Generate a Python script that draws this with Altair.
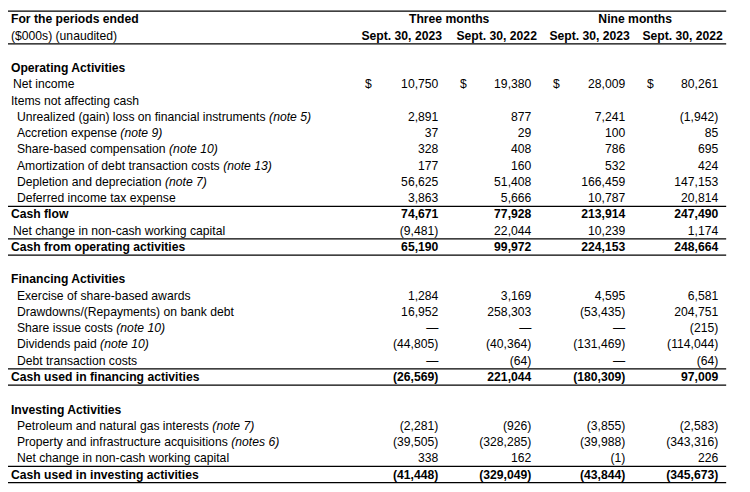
import altair as alt
import pandas as pd

# ---------------- data ----------------
col_groups = ["Three months", "Nine months"]
col_headers = ["Sept. 30, 2023", "Sept. 30, 2022", "Sept. 30, 2023", "Sept. 30, 2022"]
title_left = ["For the periods ended", "($000s) (unaudited)"]

labels = [
    "", "Operating Activities", "Net income", "Items not affecting cash",
    "Unrealized (gain) loss on financial instruments", "Accretion expense",
    "Share-based compensation", "Amortization of debt transaction costs",
    "Depletion and depreciation", "Deferred income tax expense", "Cash flow",
    "Net change in non-cash working capital", "Cash from operating activities",
    "", "Financing Activities", "Exercise of share-based awards",
    "Drawdowns/(Repayments) on bank debt", "Share issue costs", "Dividends paid",
    "Debt transaction costs", "Cash used in financing activities",
    "", "Investing Activities", "Petroleum and natural gas interests",
    "Property and infrastructure acquisitions", "Net change in non-cash working capital",
    "Cash used in investing activities",
]
notes = [
    "", "", "", "", "(note 5)", "(note 9)", "(note 10)", "(note 13)", "(note 7)", "",
    "", "", "", "", "", "", "", "(note 10)", "(note 10)", "", "",
    "", "", "(note 7)", "(notes 6)", "", "",
]
indent = [0, 0, 1, 0, 2, 2, 2, 2, 2, 2, 0, 1, 0,
          0, 0, 2, 2, 2, 2, 2, 0,
          0, 0, 2, 2, 2, 0]
bold = [0, 1, 0, 0, 0, 0, 0, 0, 0, 0, 1, 0, 1,
        0, 1, 0, 0, 0, 0, 0, 1,
        0, 1, 0, 0, 0, 1]
dollar = [0, 0, 1, 0, 0, 0, 0, 0, 0, 0, 0, 0, 0,
          0, 0, 0, 0, 0, 0, 0, 0,
          0, 0, 0, 0, 0, 0]

N = None
three_2023 = [N, N, 10750, N, 2891, 37, 328, 177, 56625, 3863, 74671, -9481, 65190,
              N, N, 1284, 16952, 0, -44805, 0, -26569,
              N, N, -2281, -39505, 338, -41448]
three_2022 = [N, N, 19380, N, 877, 29, 408, 160, 51408, 5666, 77928, 22044, 99972,
              N, N, 3169, 258303, 0, -40364, -64, 221044,
              N, N, -926, -328285, 162, -329049]
nine_2023 = [N, N, 28009, N, 7241, 100, 786, 532, 166459, 10787, 213914, 10239, 224153,
             N, N, 4595, -53435, 0, -131469, 0, -180309,
             N, N, -3855, -39988, -1, -43844]
nine_2022 = [N, N, 80261, N, -1942, 85, 695, 424, 147153, 20814, 247490, 1174, 248664,
             N, N, 6581, 204751, -215, -114044, -64, 97009,
             N, N, -2583, -343316, 226, -345673]

# rules drawn below these body rows
rule_after_rows = [9, 11, 12, 19, 20, 25, 26]

# ---------------- layout (styles / positions) ----------------
W, H = 742, 484
FS = 12.3
FONT = "Liberation Sans"
FIRST_BODY_ROW = 2
ROW_Y0, ROW_Y_LAST = 9, 469
N_ROWS = FIRST_BODY_ROW + len(labels)
indent_x = {0: 3, 1: 5, 2: 9}
value_right = [435, 529, 624, 718]
dollar_left = [361, 457, 551, 646]
header_center = [398, 494, 588, 682]
group_center = [446, 634]
RULE_X0, RULE_X1 = 0, 726

# Arial / Liberation Sans advance widths (per 1000 em), regular
AW = {' ': 278, '(': 333, ')': 333, '-': 333, '/': 278, ',': 278, '.': 278}
for ch in "0123456789abdeghnopqu":
    AW[ch] = 556
AW.update({'c': 500, 'f': 278, 'i': 222, 'j': 222, 'k': 500, 'l': 222, 'm': 833,
           'r': 333, 's': 500, 't': 278, 'v': 500, 'w': 722, 'x': 500, 'y': 500, 'z': 500,
           'A': 667, 'C': 722, 'D': 722, 'P': 667, 'R': 722, 'S': 667, 'U': 722, 'E': 667,
           'N': 722, 'I': 278, 'F': 611, 'O': 778, 'T': 611, 'G': 778, 'B': 667, 'M': 833})


def text_width(s):
    return sum(AW.get(c, 556) for c in s) * FS / 1000.0


def fmt(v):
    if v is None:
        return None
    if v == 0:
        return "\u2014"
    s = f"{abs(v):,}"
    return f"({s})" if v < 0 else s


# ---------------- build tables ----------------
lab_rows, note_rows, val_rows, dol_rows = [], [], [], []
cols = [three_2023, three_2022, nine_2023, nine_2022]
for i, lab in enumerate(labels):
    r = FIRST_BODY_ROW + i
    x0 = indent_x[indent[i]]
    if lab:
        lab_rows.append({"row": r, "x": x0, "text": lab, "bold": bold[i]})
    if notes[i]:
        note_rows.append({"row": r, "x": x0 + text_width(lab + " "), "text": notes[i]})
    for c, series in enumerate(cols):
        t = fmt(series[i])
        if t is not None:
            val_rows.append({"row": r, "x": value_right[c], "text": t, "bold": bold[i]})
            if dollar[i]:
                dol_rows.append({"row": r, "x": dollar_left[c], "text": "$"})

hdr_bold = [{"row": 0, "x": indent_x[0], "text": title_left[0]}]
grp = [{"row": 0, "x": group_center[g], "text": name} for g, name in enumerate(col_groups)]
hdr_sub = [{"row": 1, "x": header_center[c], "text": h} for c, h in enumerate(col_headers)]
hdr_reg = [{"row": 1, "x": indent_x[0], "text": title_left[1]}]

rules = [{"row": -0.52, "x": RULE_X0, "x2": RULE_X1},
         {"row": 1.5, "x": RULE_X0, "x2": RULE_X1}]
for k in rule_after_rows:
    rules.append({"row": FIRST_BODY_ROW + k + 0.5, "x": RULE_X0, "x2": RULE_X1})

lab_df = pd.DataFrame(lab_rows)
val_df = pd.DataFrame(val_rows)

xs = alt.Scale(domain=[0, W], range=[0, W], nice=False, zero=False)
ys = alt.Scale(domain=[0, N_ROWS - 1], range=[ROW_Y0, ROW_Y_LAST], nice=False, zero=False)
X = alt.X("x:Q", scale=xs, axis=None)
Y = alt.Y("row:Q", scale=ys, axis=None)


def txt(df, **kw):
    base = dict(font=FONT, fontSize=FS, color="#000000", baseline="middle")
    base.update(kw)
    return alt.Chart(df).mark_text(**base).encode(x=X, y=Y, text="text:N")


layers = [
    alt.Chart(pd.DataFrame(rules)).mark_rule(color="#000000", strokeWidth=1.2).encode(
        x=X, x2="x2:Q", y=Y),
    txt(lab_df[lab_df.bold == 0], align="left"),
    txt(lab_df[lab_df.bold == 1], align="left", fontWeight="bold"),
    txt(pd.DataFrame(note_rows), align="left", fontStyle="italic"),
    txt(val_df[val_df.bold == 0], align="right"),
    txt(val_df[val_df.bold == 1], align="right", fontWeight="bold"),
    txt(pd.DataFrame(dol_rows), align="left"),
    txt(pd.DataFrame(hdr_bold), align="left", fontWeight="bold"),
    txt(pd.DataFrame(grp), align="center", fontWeight="bold"),
    txt(pd.DataFrame(hdr_sub), align="center", fontWeight="bold"),
    txt(pd.DataFrame(hdr_reg), align="left"),
]

chart = alt.layer(*layers).properties(
    width=W, height=H, padding=0, autosize=alt.AutoSizeParams(type="none"),
    background="#ffffff",
).configure_view(stroke=None)

chart.save("out.html", embed_options={"renderer": "svg", "actions": False})
